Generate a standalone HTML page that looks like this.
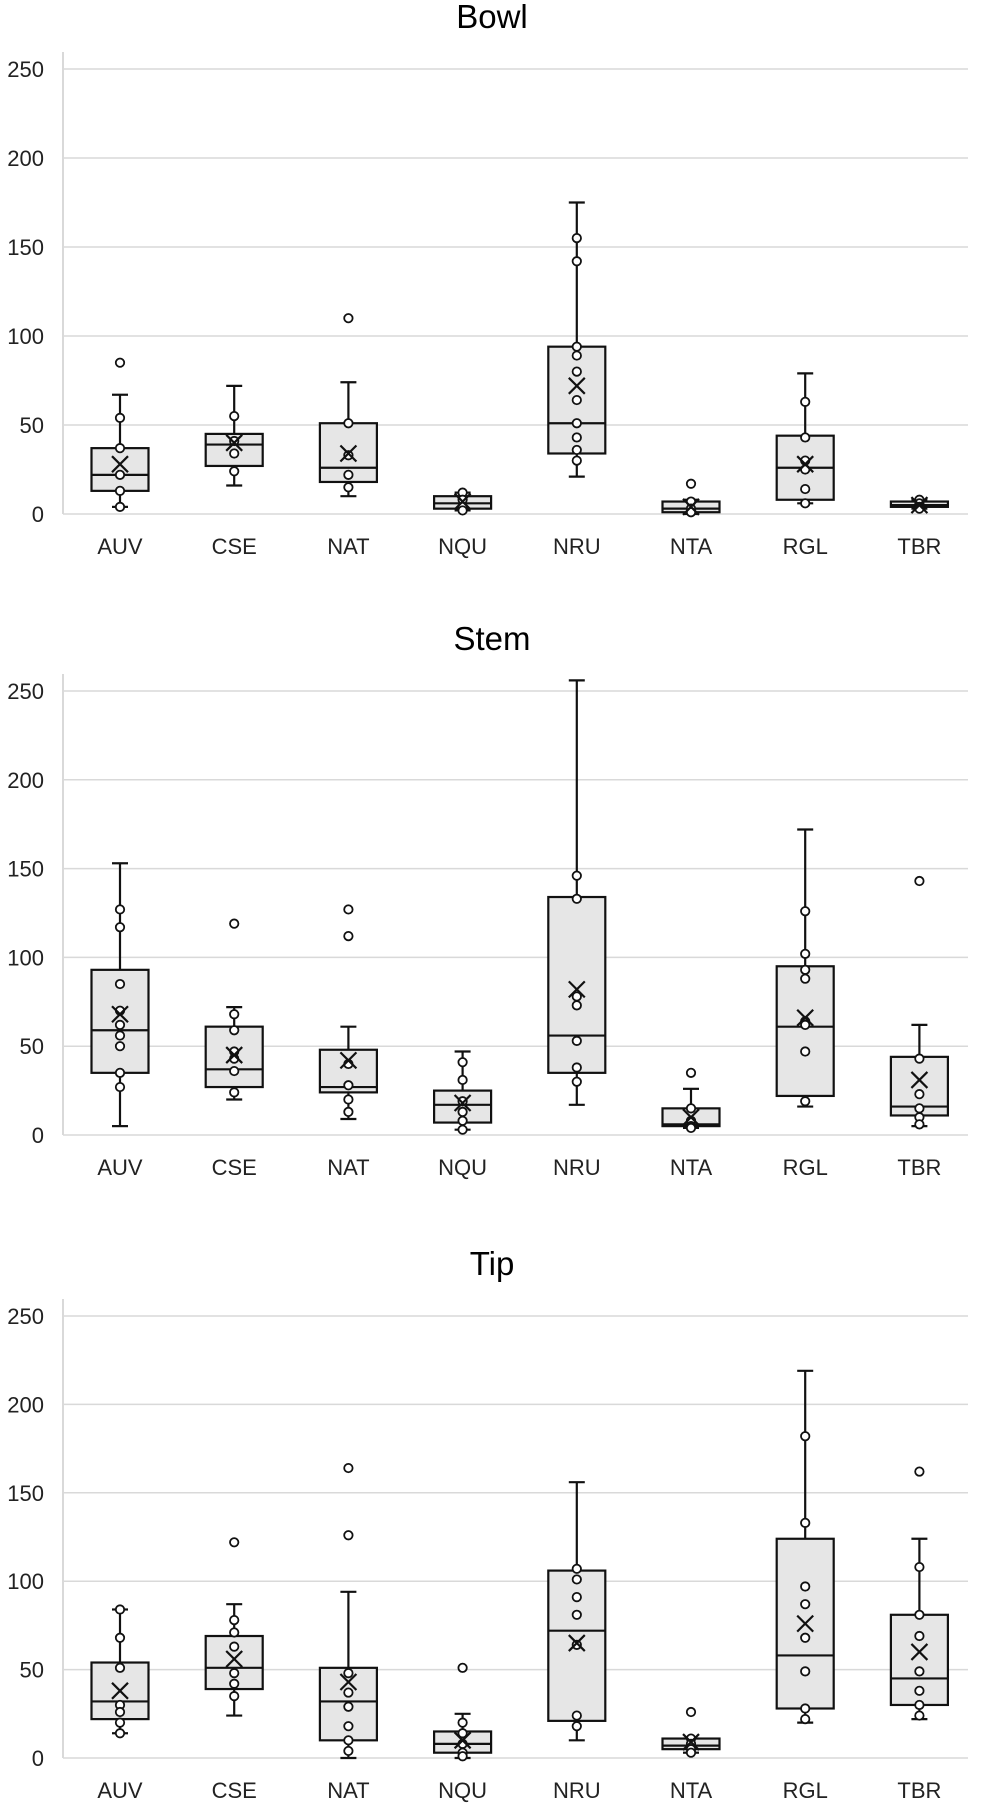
<!DOCTYPE html>
<html><head><meta charset="utf-8"><style>
html,body{margin:0;padding:0;background:#fff;}
svg{display:block;font-family:"Liberation Sans",Arial,sans-serif;}
</style></head><body>
<svg id="chart" width="985" height="1807" viewBox="0 0 985 1807"></svg>
<script>
const categories = ["AUV","CSE","NAT","NQU","NRU","NTA","RGL","TBR"];
const yTicks = [0,50,100,150,200,250];
const panelTitles = ["Bowl","Stem","Tip"];
// [min,q1,median,q3,max,mean]
const bowlStats = [[4,13,22,37,67,28],[16,27,39,45,72,40],[10,18,26,51,74,34],[2,3,6,10,12,7],[21,34,51,94,175,72],[0,1,3,7,8,4],[6,8,26,44,79,28],[3,4,5,7,8,5]];
const bowlPoints = [[85,54,37,22,13,4],[55,41,34,24],[110,51,33,22,15],[12,8,4,2],[155,142,94,89,80,64,51,43,36,30],[17,7,3,1],[63,43,30,25,14,6],[8,6,4,3]];
const stemStats = [[5,35,59,93,153,68],[20,27,37,61,72,45],[9,24,27,48,61,42],[3,7,17,25,47,18],[17,35,56,134,256,82],[4,5,6,15,26,10],[16,22,61,95,172,66],[5,11,16,44,62,31]];
const stemPoints = [[127,117,85,70,62,56,50,35,27],[119,68,59,47,43,36,24],[127,112,40,28,20,13],[41,31,19,13,8,3],[146,133,78,73,53,38,30],[35,15,8,5,4],[126,102,93,88,64,62,47,19],[143,43,23,15,10,6]];
const tipStats = [[14,22,32,54,84,38],[24,39,51,69,87,56],[0,10,32,51,94,43],[0,3,8,15,25,10],[10,21,72,106,156,65],[3,5,7,11,11,9],[20,28,58,124,219,76],[22,30,45,81,124,60]];
const tipPoints = [[84,68,51,30,26,20,14],[122,78,71,63,48,42,35],[164,126,48,37,29,18,10,4],[51,20,14,8,3,1],[107,101,91,81,64,24,18],[26,11,8,5,3],[182,133,97,87,68,49,28,22],[162,108,81,69,49,38,30,24]];

const allStats=[bowlStats,stemStats,tipStats];
const allPoints=[bowlPoints,stemPoints,tipPoints];
const layout=[{y0:514,y250:69,title:17},{y0:1135,y250:691,title:639},{y0:1758,y250:1316,title:1264}];
const NS="http://www.w3.org/2000/svg";
const svg=document.getElementById('chart');
function mk(tag,attrs,parent){const e=document.createElementNS(NS,tag);for(const k in attrs)e.setAttribute(k,attrs[k]);(parent||svg).appendChild(e);return e;}
const xL=63,xR=968;
function xScale(i){return 120+i*114.2;}
layout.forEach((L,p)=>{
  const yS=v=>L.y0-(v/250)*(L.y0-L.y250);
  const g=mk('g',{});
  
  
  const t=mk('text',{x:492,y:L.title+11,'text-anchor':'middle','font-size':33,fill:'#000'},g);
  t.textContent=panelTitles[p];
  
  
  yTicks.forEach(v=>{
    const gl=mk('line',{x1:xL,x2:xR,y1:yS(v),y2:yS(v),stroke:'#d9d9d9','stroke-width':1.5},g);
    
    
    const tl=mk('text',{x:44,y:yS(v)+8,'text-anchor':'end','font-size':22,fill:'#222'},g);
    tl.textContent=v;
    
    
  });
  const ax=mk('line',{x1:xL,x2:xL,y1:L.y250-17,y2:L.y0,stroke:'#d9d9d9','stroke-width':2},g);
  
  
  categories.forEach((c,i)=>{
    const s=allStats[p][i],cx=xScale(i),hw=28.5;
    const bg=mk('g',{},g);
    
    
    const st={stroke:'#111','stroke-width':2.2};
    mk('line',Object.assign({x1:cx,x2:cx,y1:yS(s[4]),y2:yS(s[3])},st),bg);
    mk('line',Object.assign({x1:cx,x2:cx,y1:yS(s[1]),y2:yS(s[0])},st),bg);
    mk('line',Object.assign({x1:cx-8,x2:cx+8,y1:yS(s[4]),y2:yS(s[4])},st),bg);
    mk('line',Object.assign({x1:cx-8,x2:cx+8,y1:yS(s[0]),y2:yS(s[0])},st),bg);
    mk('rect',Object.assign({x:cx-hw,y:yS(s[3]),width:2*hw,height:Math.max(1,yS(s[1])-yS(s[3])),fill:'#e6e6e6'},st),bg);
    mk('line',Object.assign({x1:cx-hw,x2:cx+hw,y1:yS(s[2]),y2:yS(s[2])},st),bg);
    allPoints[p][i].forEach(v=>{
      const pt=mk('circle',{cx:cx,cy:yS(v),r:4.2,fill:'#fff',stroke:'#111','stroke-width':1.8},bg);
      
      
    });
    const my=yS(s[5]),d=8;
    const mx=mk('path',{d:`M${cx-d},${my-d}L${cx+d},${my+d}M${cx+d},${my-d}L${cx-d},${my+d}`,stroke:'#111','stroke-width':2.2,fill:'none'},bg);
    
    
    const xl=mk('text',{x:cx,y:L.y0+40,'text-anchor':'middle','font-size':22,fill:'#222'},g);
    xl.textContent=c;
    
    
  });
});
</script>
</body></html>
